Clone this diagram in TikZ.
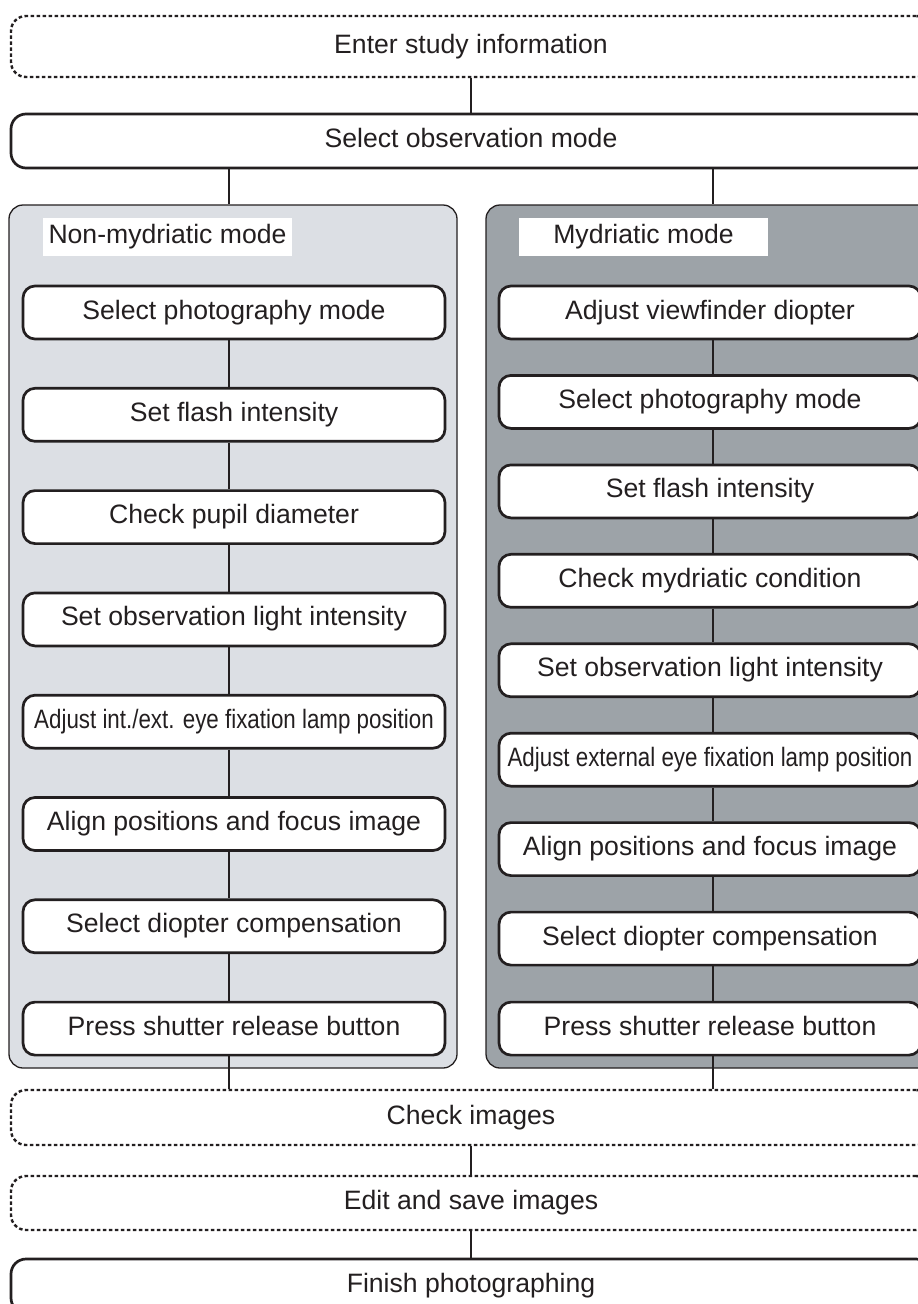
\documentclass[tikz,border=0pt]{standalone}
\usepackage{fontspec}
\setmainfont{Liberation Sans}
\newfontfamily\narrowfont[FakeStretch=0.84]{Liberation Sans}
\definecolor{inkgray}{HTML}{231F20}
\definecolor{panellight}{HTML}{DCDFE4}
\definecolor{paneldark}{HTML}{9DA3A8}

\begin{document}
\begin{tikzpicture}[
    x=1pt, y=-1pt,
    every node/.style={align=center, font=\fontsize{26.6}{30}\selectfont, text=inkgray},
    stepbox/.style={draw=inkgray, line width=2.7pt, rounded corners=12pt, fill=white, minimum width=422pt, minimum height=53pt, inner sep=0pt, text height=19.5pt, text depth=6.5pt},
    widebox/.style={stepbox, minimum width=920pt, minimum height=54pt, rounded corners=15pt},
    dashbox/.style={widebox, line width=2.4pt, dash pattern=on 3.5pt off 2.5pt},
    narrow/.style={font=\narrowfont\fontsize{26.6}{30}\selectfont},
    panel/.style={draw=inkgray, line width=1.3pt, rounded corners=14pt, minimum width=448pt, minimum height=863pt, inner sep=0pt},
    modelabel/.style={fill=white, minimum width=249pt, minimum height=38pt, inner sep=0pt},
    link/.style={draw=inkgray, line width=1.4pt}
]

    % Page frame (boxes on the right run past the edge)
    \useasboundingbox (0,0) rectangle (918,1304);

    % Connector columns
    \coordinate (lcol) at (229,0);
    \coordinate (rcol) at (713,0);

    % Two mode panels
    \node[panel, fill=panellight] (lpanel) at (233, 636.5) {};
    \node[panel, fill=paneldark] (rpanel) at (710, 636.5) {};
    \node[modelabel] (llabel) at (167.5, 237) {Non-mydriatic mode};
    \node[modelabel] (rlabel) at (643.5, 237) {Mydriatic mode};

    % Common steps at top and bottom
    \node[dashbox, minimum height=61pt] (enter) at (471, 46.5) {Enter study information};
    \node[widebox] (obs) at (471, 141) {Select observation mode};
    \node[dashbox, minimum height=55pt] (check) at (471, 1117.5) {Check images};
    \node[dashbox] (edit) at (471, 1203) {Edit and save images};
    \node[widebox] (finish) at (471, 1286) {Finish photographing};

    % Non-mydriatic steps
    \node[stepbox] (lstep1) at (234, 312.5) {Select photography mode};
    \node[stepbox] (lstep2) at (234, 414.8) {Set flash intensity};
    \node[stepbox] (lstep3) at (234, 517.1) {Check pupil diameter};
    \node[stepbox] (lstep4) at (234, 619.4) {Set observation light intensity};
    \node[stepbox, narrow] (lstep5) at (234, 721.7) {Adjust int./ext. eye fixation lamp position};
    \node[stepbox] (lstep6) at (234, 824) {Align positions and focus image};
    \node[stepbox] (lstep7) at (234, 926.3) {Select diopter compensation};
    \node[stepbox] (lstep8) at (234, 1028.6) {Press shutter release button};

    % Mydriatic steps
    \node[stepbox] (rstep1) at (710, 312.5) {Adjust viewfinder diopter};
    \node[stepbox] (rstep2) at (710, 401.9) {Select photography mode};
    \node[stepbox] (rstep3) at (710, 491.4) {Set flash intensity};
    \node[stepbox] (rstep4) at (710, 580.8) {Check mydriatic condition};
    \node[stepbox] (rstep5) at (710, 670.3) {Set observation light intensity};
    \node[stepbox, narrow] (rstep6) at (710, 759.7) {Adjust external eye fixation lamp position};
    \node[stepbox] (rstep7) at (710, 849.1) {Align positions and focus image};
    \node[stepbox] (rstep8) at (710, 938.6) {Select diopter compensation};
    \node[stepbox] (rstep9) at (710, 1028.6) {Press shutter release button};

    % Top connectors
    \draw[link] (enter.south) -- (obs.north);
    \draw[link] (obs.south -| lcol) -- (lpanel.north -| lcol);
    \draw[link] (obs.south -| rcol) -- (rpanel.north -| rcol);

    % Left column connectors
    \draw[link] (lstep1.south -| lcol) -- (lstep2.north -| lcol);
    \draw[link] (lstep2.south -| lcol) -- (lstep3.north -| lcol);
    \draw[link] (lstep3.south -| lcol) -- (lstep4.north -| lcol);
    \draw[link] (lstep4.south -| lcol) -- (lstep5.north -| lcol);
    \draw[link] (lstep5.south -| lcol) -- (lstep6.north -| lcol);
    \draw[link] (lstep6.south -| lcol) -- (lstep7.north -| lcol);
    \draw[link] (lstep7.south -| lcol) -- (lstep8.north -| lcol);

    % Right column connectors
    \draw[link] (rstep1.south -| rcol) -- (rstep2.north -| rcol);
    \draw[link] (rstep2.south -| rcol) -- (rstep3.north -| rcol);
    \draw[link] (rstep3.south -| rcol) -- (rstep4.north -| rcol);
    \draw[link] (rstep4.south -| rcol) -- (rstep5.north -| rcol);
    \draw[link] (rstep5.south -| rcol) -- (rstep6.north -| rcol);
    \draw[link] (rstep6.south -| rcol) -- (rstep7.north -| rcol);
    \draw[link] (rstep7.south -| rcol) -- (rstep8.north -| rcol);
    \draw[link] (rstep8.south -| rcol) -- (rstep9.north -| rcol);

    % Bottom connectors
    \draw[link] (lstep8.south -| lcol) -- (check.north -| lcol);
    \draw[link] (rstep9.south -| rcol) -- (check.north -| rcol);
    \draw[link] (check.south) -- (edit.north);
    \draw[link] (edit.south) -- (finish.north);

\end{tikzpicture}
\end{document}
